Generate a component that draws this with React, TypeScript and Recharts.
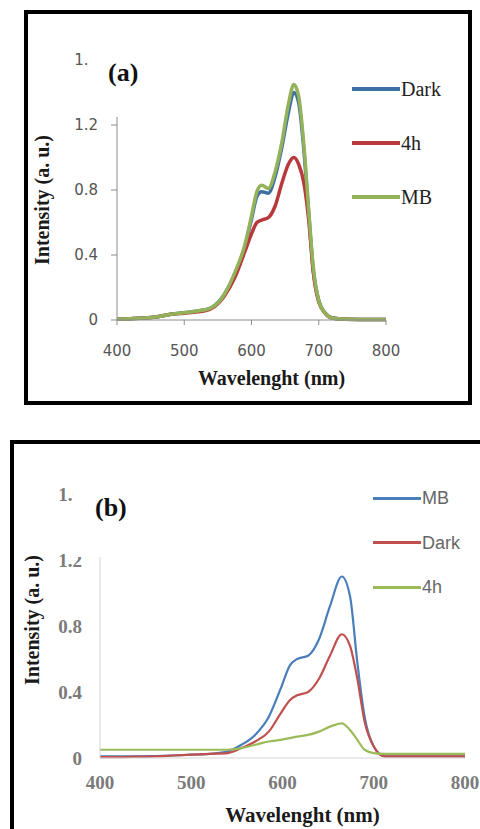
import React from 'react';
import { LineChart, Line, XAxis, YAxis, Legend } from 'recharts';

// ---- panel (a) ----
const wavelengthA = [400, 420, 440, 460, 480, 500, 520, 540, 560, 575, 590, 600, 608, 615, 625, 635, 645, 655, 663, 670, 678, 685, 692, 700, 710, 720, 740, 760, 780, 800];
const darkA = [0.005, 0.008, 0.012, 0.02, 0.035, 0.045, 0.055, 0.075, 0.16, 0.28, 0.45, 0.62, 0.76, 0.79, 0.78, 0.88, 1.06, 1.28, 1.4, 1.34, 1.04, 0.66, 0.3, 0.12, 0.04, 0.012, 0.004, 0.003, 0.003, 0.003];
const h4A = [0.005, 0.008, 0.012, 0.02, 0.035, 0.042, 0.05, 0.07, 0.15, 0.26, 0.42, 0.53, 0.6, 0.615, 0.63, 0.7, 0.84, 0.96, 1.0, 0.96, 0.84, 0.62, 0.29, 0.11, 0.04, 0.012, 0.004, 0.003, 0.003, 0.003];
const mbA = [0.005, 0.008, 0.012, 0.02, 0.035, 0.045, 0.055, 0.075, 0.16, 0.29, 0.46, 0.64, 0.79, 0.83, 0.81, 0.91, 1.09, 1.33, 1.45, 1.38, 1.07, 0.68, 0.32, 0.12, 0.04, 0.012, 0.004, 0.003, 0.003, 0.003];
const legendOrderA = ['Dark', '4h', 'MB'];

// ---- panel (b) ----
const wavelengthB = [400, 420, 440, 460, 480, 500, 520, 540, 555, 570, 585, 598, 608, 616, 628, 640, 652, 665, 674, 682, 690, 700, 712, 730, 760, 800];
const mbB = [0.01, 0.01, 0.01, 0.012, 0.015, 0.02, 0.025, 0.04, 0.08, 0.14, 0.25, 0.42, 0.56, 0.6, 0.62, 0.72, 0.92, 1.1, 0.98, 0.58, 0.25, 0.07, 0.01, 0.01, 0.01, 0.01];
const darkB = [0.005, 0.005, 0.008, 0.01, 0.015, 0.02, 0.025, 0.03, 0.06, 0.1, 0.16, 0.27, 0.35, 0.38, 0.4, 0.48, 0.62, 0.75, 0.68, 0.48, 0.22, 0.07, 0.01, 0.01, 0.01, 0.01];
const h4B = [0.05, 0.05, 0.05, 0.05, 0.05, 0.05, 0.05, 0.05, 0.06, 0.08, 0.1, 0.11, 0.12, 0.13, 0.14, 0.16, 0.19, 0.21, 0.17, 0.11, 0.05, 0.03, 0.025, 0.025, 0.025, 0.025];
const legendOrderB = ['MB', 'Dark', '4h'];

const xTicks = [400, 500, 600, 700, 800];
const yTicks = [0, 0.4, 0.8, 1.2, 1.6];

const rowsA = wavelengthA.map((nm, i) => ({ nm, dark: darkA[i], h4: h4A[i], mb: mbA[i] }));
const rowsB = wavelengthB.map((nm, i) => ({ nm, mb: mbB[i], dark: darkB[i], h4: h4B[i] }));

const fmtY = (v: number) => (v === 0 ? '0' : String(v));

const serif = '"Liberation Serif", "Times New Roman", serif';

// legend sorts alphabetically by default, so put items back in series order
function makeLegend(order: string[], rowH: number, font: string, size: number, color: string, lineH: number) {
  return ({ payload }: any) => {
    const items = [...(payload || [])].sort((a: any, b: any) => order.indexOf(a.value) - order.indexOf(b.value));
    return (
      <div style={{ fontFamily: font, fontSize: size, color }}>
        {items.map((p: any) => (
          <div key={p.value} style={{ display: 'flex', alignItems: 'center', height: rowH }}>
            <span style={{ display: 'inline-block', width: 48, height: lineH, background: p.color }} />
            <span style={{ marginLeft: 1, lineHeight: 1 }}>{p.value}</span>
          </div>
        ))}
      </div>
    );
  };
}

function yTitle(text: string, dx: number, dy: number, size: number) {
  return (props: any) => {
    const vb = props.viewBox || { x: 0, y: 0, width: 0, height: 0 };
    const x = vb.x + dx;
    const y = vb.y + vb.height / 2 + dy;
    return (
      <text x={x} y={y} transform={`rotate(-90, ${x}, ${y})`} textAnchor="middle" dominantBaseline="central"
        style={{ fontFamily: serif, fontWeight: 700, fontSize: size, fill: '#1a1a1a' }}>
        {text}
      </text>
    );
  };
}

function xTitle(text: string, dx: number, dy: number, size: number) {
  return (props: any) => {
    const vb = props.viewBox || { x: 0, y: 0, width: 0, height: 0 };
    return (
      <text x={vb.x + vb.width / 2 + dx} y={vb.y + dy} textAnchor="middle" dominantBaseline="central"
        style={{ fontFamily: serif, fontWeight: 700, fontSize: size, fill: '#1a1a1a' }}>
        {text}
      </text>
    );
  };
}

const tagBox = (left: number, top: number, w: number, h: number, label: string, tx: number, ty: number) => (
  <div style={{ position: 'absolute', left, top, width: w, height: h, background: '#fff' }}>
    <span style={{ position: 'absolute', left: tx, top: ty, fontFamily: serif, fontWeight: 700, fontSize: 26, lineHeight: 1, color: '#111' }}>
      {label}
    </span>
  </div>
);

export default function App() {
  return (
    <div style={{ position: 'absolute', left: 0, top: 0, width: 480, height: 829, overflow: 'hidden', background: '#fff' }}>
      {/* panel (a) frame */}
      <div style={{ position: 'absolute', left: 24, top: 10, width: 448, height: 395, border: '4px solid #000', boxSizing: 'border-box' }} />
      <div style={{ position: 'absolute', left: 0, top: 0 }}>
        <LineChart width={480} height={405} data={rowsA} margin={{ top: 60, right: 94, bottom: 25, left: 0 }}>
          <XAxis dataKey="nm" type="number" domain={[400, 800]} ticks={xTicks} stroke="#8c8c8c"
            tickSize={5} tickMargin={20} height={60}
            tick={{ fontFamily: '"DejaVu Sans", Verdana, sans-serif', fontSize: 15, fill: '#555' }}
            label={{ content: xTitle('Wavelenght (nm)', 20, 58, 20) }} />
          <YAxis type="number" domain={[0, 1.6]} ticks={yTicks} stroke="#8c8c8c" width={117}
            tickSize={6} tickMargin={13} tickFormatter={fmtY}
            tick={{ fontFamily: '"DejaVu Sans", Verdana, sans-serif', fontSize: 15, fill: '#555' }}
            label={{ content: yTitle('Intensity (a. u.)', 42, 10, 20) }} />
          <Legend layout="vertical" align="center" verticalAlign="middle"
            wrapperStyle={{ position: 'absolute', left: 352, top: 62, width: 110 }}
            content={makeLegend(legendOrderA, 54, serif, 20, '#222', 4)} />
          <Line type="monotone" dataKey="dark" name="Dark" stroke="#3d6fa5" strokeWidth={3.5} dot={false} isAnimationActive={false} />
          <Line type="monotone" dataKey="h4" name="4h" stroke="#b8383b" strokeWidth={3.5} dot={false} isAnimationActive={false} />
          <Line type="monotone" dataKey="mb" name="MB" stroke="#93b25a" strokeWidth={3.5} dot={false} isAnimationActive={false} />
        </LineChart>
      </div>
      {tagBox(88, 40, 112, 77, '(a)', 20, 20)}

      {/* panel (b) frame */}
      <div style={{ position: 'absolute', left: 10, top: 440, width: 490, height: 400, border: '4px solid #000', boxSizing: 'border-box' }} />
      <div style={{ position: 'absolute', left: 0, top: 440 }}>
        <LineChart width={480} height={389} data={rowsB} margin={{ top: 54, right: 15, bottom: 11, left: 0 }}>
          <XAxis dataKey="nm" type="number" domain={[400, 800]} ticks={xTicks} stroke="#d4d4d4"
            tickLine={false} tickSize={0} tickMargin={18} height={60}
            tick={{ fontFamily: serif, fontWeight: 700, fontSize: 19, fill: '#7a7a7a' }}
            label={{ content: xTitle('Wavelenght (nm)', 20, 57, 21) }} />
          <YAxis type="number" domain={[0, 1.6]} ticks={yTicks} stroke="#d4d4d4" width={100}
            tickLine={false} tickSize={0} tickMargin={18} tickFormatter={fmtY}
            tick={{ fontFamily: serif, fontWeight: 700, fontSize: 19, fill: '#7a7a7a' }}
            label={{ content: yTitle('Intensity (a. u.)', 32, -6, 20) }} />
          <Legend layout="vertical" align="center" verticalAlign="middle"
            wrapperStyle={{ position: 'absolute', left: 373, top: 36, width: 100 }}
            content={makeLegend(legendOrderB, 44.5, '"Liberation Sans", Arial, sans-serif', 18, '#666', 3)} />
          <Line type="monotone" dataKey="mb" name="MB" stroke="#4a7ebb" strokeWidth={2.2} dot={false} isAnimationActive={false} />
          <Line type="monotone" dataKey="dark" name="Dark" stroke="#c0504d" strokeWidth={2.2} dot={false} isAnimationActive={false} />
          <Line type="monotone" dataKey="h4" name="4h" stroke="#9bbb59" strokeWidth={2.2} dot={false} isAnimationActive={false} />
        </LineChart>
      </div>
      {tagBox(73, 465, 127, 92, '(b)', 22, 30)}
    </div>
  );
}
